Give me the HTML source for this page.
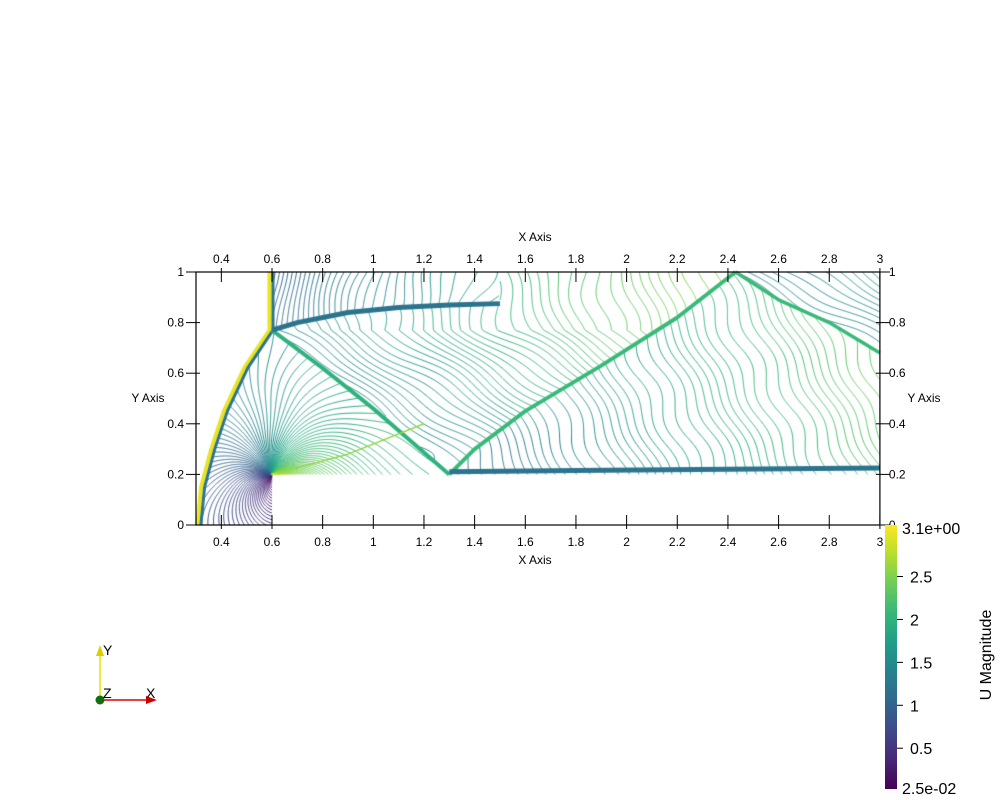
<!DOCTYPE html>
<html><head><meta charset="utf-8"><style>
body{margin:0;background:#fff;width:1000px;height:800px;overflow:hidden;font-family:"Liberation Sans",sans-serif}
#wrap{position:relative;width:1000px;height:800px}
canvas{position:absolute;left:0;top:0}
svg{position:absolute;left:0;top:0}
</style></head><body>
<div id="wrap">
<canvas id="cv" width="1000" height="800"></canvas>
<svg id="sv" width="1000" height="800"></svg>
</div>
<script>
const xTicks=[0.4,0.6,0.8,1,1.2,1.4,1.6,1.8,2,2.2,2.4,2.6,2.8,3];
const xTickLabels=["0.4","0.6","0.8","1","1.2","1.4","1.6","1.8","2","2.2","2.4","2.6","2.8","3"];
const yTicks=[0,0.2,0.4,0.6,0.8,1];
const yTickLabels=["0","0.2","0.4","0.6","0.8","1"];
const cbTicks=[2.5,2,1.5,1,0.5];
const cbTickLabels=["2.5","2","1.5","1","0.5"];
const cbRange=[0.025,3.1];
const shockBow=[[0.315,0],[0.33,0.15],[0.37,0.3],[0.42,0.45],[0.5,0.62],[0.6,0.77],[0.6,1]];
const shockReflect=[[0.6,0.77],[0.8,0.62],[1.0,0.46],[1.15,0.33],[1.3,0.2]];
const slipLine=[[0.6,0.77],[0.7,0.8],[0.9,0.84],[1.1,0.86],[1.3,0.87],[1.5,0.875]];
const shock2=[[1.3,0.2],[1.4,0.3],[1.6,0.45],[1.9,0.63],[2.2,0.82],[2.43,1]];
const shock3=[[2.43,1],[2.6,0.89],[2.8,0.8],[3,0.68]];
const shearLine=[[1.3,0.21],[1.8,0.215],[2.4,0.22],[3,0.225]];
const px=x=>196+(x-0.3)*253.3, py=y=>525-y*253;
const vir=[[68,1,84],[72,40,120],[62,74,137],[49,104,142],[38,130,142],[31,158,137],[53,183,121],[109,205,89],[180,222,44],[253,231,37]];
function vcol(t){t=Math.max(0,Math.min(1,t));const f=t*(vir.length-1),i=Math.min(vir.length-2,Math.floor(f)),u=f-i;const a=vir[i],b=vir[i+1];return `rgb(${Math.round(a[0]+(b[0]-a[0])*u)},${Math.round(a[1]+(b[1]-a[1])*u)},${Math.round(a[2]+(b[2]-a[2])*u)})`;}
function interp(pts,y){for(let i=0;i<pts.length-1;i++){const a=pts[i],b=pts[i+1];if(y>=Math.min(a[1],b[1])&&y<=Math.max(a[1],b[1])){const t=(b[1]-a[1])?(y-a[1])/(b[1]-a[1]):0;return a[0]+(b[0]-a[0])*t;}}return null;}
function interpX(pts,x){for(let i=0;i<pts.length-1;i++){const a=pts[i],b=pts[i+1];if(x>=a[0]&&x<=b[0]){const t=(x-a[0])/(b[0]-a[0]);return a[1]+(b[1]-a[1])*t;}}return pts[pts.length-1][1];}
function U(x,y){
 const xb=interp(shockBow,Math.min(y,1));if(xb!==null&&x<xb)return NaN;
 if(x>0.6&&y<0.2)return NaN;
 const wig=0.012*Math.sin(x*14+y*9)+0.01*Math.sin(y*21-x*6);
 const ys=interpX(slipLine,Math.max(0.6,x));
 const x2=interp(shock2,Math.max(0.2,Math.min(1,y)));
 if(x<1.5&&y>ys&&x<x2){return 1.0+1.15*(1-Math.exp(-(x-0.6)/0.7))-0.25*(y-0.9)+wig;}
 const xr=interp(shockReflect,Math.max(0.2,Math.min(0.77,y)));
 if(x<0.6||(y<=0.77&&x<xr)){
  const dx=x-0.6,dy=y-0.2,r=Math.hypot(dx,dy);let th=Math.atan2(dy,dx)*180/Math.PI;
  let phi=(-90-th);while(phi<0)phi+=360;phi=Math.min(phi,275);
  const w=Math.exp(-r/0.3);
  const s=Math.pow(phi/275,1.4)*w+(1-w)*(0.35+0.25*Math.pow(phi/275,1.2));
  return 0.03+2.95*s+wig*0.5;
 }
 if(x<x2){const xx=x-xr+0.25*(y-0.5);return 1.45+0.6*Math.max(0,xx)+wig;}
 const y3=interpX(shock3,Math.min(3,Math.max(2.43,x)));
 if(y>y3&&x>2.43){return 1.25+0.5*(x-2.43)+0.9*(y-0.8)+wig;}
 return 1.1+0.68*(x-1.3+0.45*(y-0.2))+wig;
}
const cv=document.getElementById('cv'),ctx=cv.getContext('2d');
const h=0.004,nx=Math.round(2.7/h),ny=Math.round(1/h);
const G=[];for(let j=0;j<=ny;j++){const row=new Float32Array(nx+1);for(let i=0;i<=nx;i++)row[i]=U(0.3+i*h,j*h);G.push(row);}
const levels=[];for(let v=0.05;v<3.1;v+=0.028)levels.push(v);
const segs=levels.map(()=>[]);
for(let j=0;j<ny;j++)for(let i=0;i<nx;i++){
 const a=G[j][i],b=G[j][i+1],c=G[j+1][i+1],d=G[j+1][i];
 if(isNaN(a)||isNaN(b)||isNaN(c)||isNaN(d))continue;
 const mn=Math.min(a,b,c,d),mx=Math.max(a,b,c,d);
 const x0=0.3+i*h,y0=j*h;
 const nearCorner=Math.hypot(x0-0.6,y0-0.2)<0.05;
 if(mx-mn>0.1&&!nearCorner)continue;
 for(let k=0;k<levels.length;k++){const L=levels[k];if(L<mn||L>mx)continue;
  const p=[];
  const e=(v1,v2,X1,Y1,X2,Y2)=>{if((v1<L)!==(v2<L)){const t=(L-v1)/(v2-v1);p.push([X1+(X2-X1)*t,Y1+(Y2-Y1)*t]);}};
  e(a,b,x0,y0,x0+h,y0);e(b,c,x0+h,y0,x0+h,y0+h);e(c,d,x0+h,y0+h,x0,y0+h);e(d,a,x0,y0+h,x0,y0);
  if(p.length>=2)segs[k].push(p[0],p[1]);if(p.length===4)segs[k].push(p[2],p[3]);}
}
ctx.lineWidth=1;
levels.forEach((L,k)=>{ctx.strokeStyle=vcol((L-cbRange[0])/(cbRange[1]-cbRange[0]));ctx.beginPath();const s=segs[k];for(let m=0;m<s.length;m+=2){ctx.moveTo(px(s[m][0]),py(s[m][1]));ctx.lineTo(px(s[m+1][0]),py(s[m+1][1]));}ctx.stroke();});
function drawLine(pts,val,w){ctx.strokeStyle=vcol((val-cbRange[0])/(cbRange[1]-cbRange[0]));ctx.lineWidth=w;ctx.lineJoin='round';ctx.beginPath();pts.forEach((p,i)=>i?ctx.lineTo(px(p[0]),py(p[1])):ctx.moveTo(px(p[0]),py(p[1])));ctx.stroke();}
drawLine(shockBow.map(p=>[p[0]-0.01,p[1]]),3.0,4);
drawLine(shockBow.map(p=>[p[0]+0.004,p[1]]),1.2,3);
drawLine(shockReflect,2.0,4);
drawLine(slipLine,1.2,5);
drawLine(shock2,2.1,4);
drawLine(shock3,2.1,3.5);
drawLine(shearLine,1.2,5);
drawLine([[0.62,0.205],[0.9,0.28],[1.2,0.4]],2.6,1.5);
// SVG axes
const NS='http://www.w3.org/2000/svg',sv=document.getElementById('sv');
function el(t,at,txt){const e=document.createElementNS(NS,t);for(const k in at)e.setAttribute(k,at[k]);if(txt!==undefined)e.textContent=txt;sv.appendChild(e);return e;}
let e;
e=el('rect',{x:px(0.3),y:py(1),width:px(3)-px(0.3),height:py(0)-py(1),fill:'none',stroke:'#000','stroke-width':1.2});


xTicks.forEach((v,i)=>{const x=px(v);
 el('line',{x1:x,y1:py(1)-4,x2:x,y2:py(1)+10,stroke:'#000','stroke-width':1});
 el('line',{x1:x,y1:py(0)+4,x2:x,y2:py(0)-10,stroke:'#000','stroke-width':1});
 e=el('text',{x:x,y:py(1)-9,'font-size':12,'text-anchor':'middle'},xTickLabels[i]);
 
 
 e=el('text',{x:x,y:py(0)+21,'font-size':12,'text-anchor':'middle'},xTickLabels[i]);
 
 
});
yTicks.forEach((v,i)=>{const y=py(v);
 el('line',{x1:px(0.3)-10,y1:y,x2:px(0.3)+4,y2:y,stroke:'#000','stroke-width':1});
 el('line',{x1:px(3)+10,y1:y,x2:px(3)-4,y2:y,stroke:'#000','stroke-width':1});
 e=el('text',{x:px(0.3)-12,y:y+4,'font-size':12,'text-anchor':'end'},yTickLabels[i]);
 
 
 e=el('text',{x:px(3)+9,y:y+4,'font-size':12,'text-anchor':'start'},yTickLabels[i]);
 
 
});
e=el('text',{x:535,y:241,'font-size':12,'text-anchor':'middle'},'X Axis');


e=el('text',{x:535,y:564,'font-size':12,'text-anchor':'middle'},'X Axis');


e=el('text',{x:148,y:402,'font-size':12,'text-anchor':'middle'},'Y Axis');


e=el('text',{x:924,y:402,'font-size':12,'text-anchor':'middle'},'Y Axis');


// colorbar
const defs=el('defs',{});const lg=document.createElementNS(NS,'linearGradient');lg.setAttribute('id','vg');lg.setAttribute('x1',0);lg.setAttribute('y1',1);lg.setAttribute('x2',0);lg.setAttribute('y2',0);defs.appendChild(lg);
vir.forEach((c,i)=>{const s=document.createElementNS(NS,'stop');s.setAttribute('offset',i/(vir.length-1));s.setAttribute('stop-color',`rgb(${c})`);lg.appendChild(s);});
const cbTop=525,cbBot=789,cby=v=>cbBot-(v-cbRange[0])/(cbRange[1]-cbRange[0])*(cbBot-cbTop);
e=el('rect',{x:885,y:cbTop,width:12,height:cbBot-cbTop,fill:'url(#vg)'});


cbTicks.forEach((v,i)=>{const y=cby(v);el('line',{x1:897,y1:y,x2:903,y2:y,stroke:'#000'});
 e=el('text',{x:910,y:y+6,'font-size':16},cbTickLabels[i]);
 
 });
e=el('text',{x:902,y:cbTop+9,'font-size':16},'3.1e+00');


e=el('text',{x:902,y:cbBot+5,'font-size':16},'2.5e-02');


e=el('text',{x:0,y:0,'font-size':16,'text-anchor':'middle',transform:'translate(991,655) rotate(-90)'},'U Magnitude');


// orientation triad
el('line',{x1:100,y1:700,x2:100,y2:652,stroke:'#e8e000','stroke-width':1.5});
el('polygon',{points:'96,656 104,656 100,645',fill:'#d8d000'});
el('line',{x1:100,y1:700,x2:148,y2:700,stroke:'#d00','stroke-width':1.5});
el('polygon',{points:'146,696 146,704 157,700',fill:'#c00'});
e=el('circle',{cx:100,cy:700,r:4.5,fill:'#107010'});


el('text',{x:103,y:655,'font-size':14},'Y');
el('text',{x:103,y:698,'font-size':14},'Z');
el('text',{x:146,y:698,'font-size':14},'X');
</script>
</body></html>
